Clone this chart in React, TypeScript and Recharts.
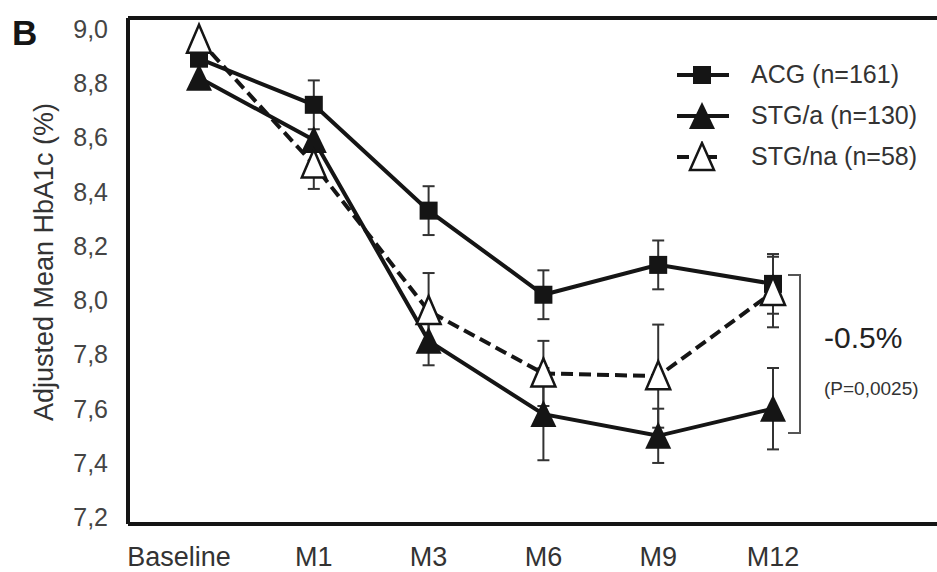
import { LineChart, Line, XAxis, YAxis, ErrorBar, ReferenceLine } from 'recharts'

const visits = ['Baseline', 'M1', 'M3', 'M6', 'M9', 'M12']
const acg = [8.89, 8.72, 8.33, 8.02, 8.13, 8.06]
const acgErr = [0, 0.09, 0.09, 0.09, 0.09, 0.11]
const stgA = [8.82, 8.59, 7.85, 7.58, 7.5, 7.6]
const stgAErr = [0, 0, 0.09, 0.17, 0.1, 0.15]
const stgNa = [8.96, 8.5, 7.96, 7.73, 7.72, 8.03]
const stgNaErr = [0, 0.09, 0.14, 0.12, 0.19, 0.13]
const yTicks = [7.2, 7.4, 7.6, 7.8, 8.0, 8.2, 8.4, 8.6, 8.8, 9.0]
const yTop = 9.04
const seriesNames = ['ACG (n=161)', 'STG/a (n=130)', 'STG/na (n=58)']

const data = visits.map((v, i) => ({
  visit: v,
  acg: acg[i],
  acgErr: acgErr[i],
  stgA: stgA[i],
  stgAErr: stgAErr[i],
  stgNa: stgNa[i],
  stgNaErr: stgNaErr[i],
}))

const font = '"Liberation Sans", Arial, sans-serif'
const ink = '#151515'

const Square = ({ cx, cy }: any) => (
  <rect x={cx - 9} y={cy - 9} width={18} height={18} fill={ink} />
)

const FilledTri = ({ cx, cy }: any) => (
  <polygon points={`${cx},${cy - 14} ${cx - 13},${cy + 13} ${cx + 13},${cy + 13}`} fill={ink} />
)

const OpenTri = ({ cx, cy }: any) => (
  <polygon
    points={`${cx},${cy - 15} ${cx - 12},${cy + 13} ${cx + 12},${cy + 13}`}
    fill="#fff"
    stroke={ink}
    strokeWidth={2.5}
  />
)

const fmt = (v: number) => v.toFixed(1).replace('.', ',')

const XTick = ({ x, y, payload, index }: any) => (
  <text
    x={x + (index === 0 ? -20 : 0)}
    y={y}
    dy="0.71em"
    textAnchor="middle"
    fontSize={27}
    fill="#333"
    fontFamily={font}
  >
    {payload.value}
  </text>
)

const LegendBox = () => {
  const marks = [
    <rect key="s" x={16} y={7} width={18} height={18} fill={ink} />,
    <polygon key="f" points="25,2 12,29 38,29" fill={ink} />,
    <polygon key="o" points="25,2 13,29 37,29" fill="#fff" stroke={ink} strokeWidth={2.5} />,
  ]
  return (
    <div style={{ position: 'absolute', left: 677, top: 54, fontFamily: font }}>
      {seriesNames.map((name, i) => (
        <div key={name} style={{ display: 'flex', alignItems: 'center', height: 41 }}>
          <svg width={52} height={32}>
            <line
              x1={0}
              y1={16}
              x2={52}
              y2={16}
              stroke={ink}
              strokeWidth={4}
              strokeDasharray={i === 2 ? '12 16' : undefined}
            />
            {marks[i]}
          </svg>
          <span style={{ marginLeft: 22, fontSize: 25, color: '#333' }}>{name}</span>
        </div>
      ))}
    </div>
  )
}

export default function App() {
  return (
    <div style={{ position: 'absolute', left: 0, top: 0, width: 937, height: 572, background: '#fff' }}>
      <LineChart width={937} height={572} data={data} margin={{ top: 18, right: 0, left: 0, bottom: 0 }}>
        <XAxis
          dataKey="visit"
          height={48}
          padding={{ left: 71, right: 164 }}
          axisLine={{ stroke: ink, strokeWidth: 4 }}
          tickLine={false}
          tickSize={0}
          tickMargin={23}
          tick={<XTick />}
          interval={0}
        />
        <YAxis
          width={128}
          domain={[7.175, yTop]}
          ticks={yTicks}
          tickFormatter={fmt}
          axisLine={{ stroke: ink, strokeWidth: 4 }}
          tickLine={false}
          tickSize={0}
          tickMargin={20}
          tick={{ fontSize: 25, fill: '#444', fontFamily: font }}
          label={{
            value: 'Adjusted Mean HbA1c (%)',
            angle: -90,
            position: 'insideLeft',
            offset: 0,
            dx: 43,
            dy: -9,
            fontSize: 27,
            fill: '#333',
            fontFamily: font,
            style: { textAnchor: 'middle' },
          }}
        />
        <ReferenceLine y={yTop} stroke={ink} strokeWidth={4} />
        <Line dataKey="acg" stroke={ink} strokeWidth={4} dot={<Square />} isAnimationActive={false}>
          <ErrorBar dataKey="acgErr" width={6} strokeWidth={2} stroke="#333" direction="y" />
        </Line>
        <Line dataKey="stgA" stroke={ink} strokeWidth={4} dot={<FilledTri />} isAnimationActive={false}>
          <ErrorBar dataKey="stgAErr" width={6} strokeWidth={2} stroke="#333" direction="y" />
        </Line>
        <Line
          dataKey="stgNa"
          stroke={ink}
          strokeWidth={4}
          strokeDasharray="12 6"
          dot={<OpenTri />}
          isAnimationActive={false}
        >
          <ErrorBar dataKey="stgNaErr" width={6} strokeWidth={2} stroke="#333" direction="y" />
        </Line>
      </LineChart>
      <LegendBox />
      <svg
        width={937}
        height={572}
        style={{ position: 'absolute', left: 0, top: 0, pointerEvents: 'none' }}
        fontFamily={font}
      >
        <text x={12} y={45} fontSize={35} fontWeight="bold" fill={ink}>
          B
        </text>
        <polyline points="788,275 800,275 800,433 788,433" fill="none" stroke="#555" strokeWidth={2} />
        <text x={824} y={348} fontSize={30} fill="#222">
          -0.5%
        </text>
        <text x={824} y={395} fontSize={19} fill="#333">
          (P=0,0025)
        </text>
      </svg>
    </div>
  )
}
